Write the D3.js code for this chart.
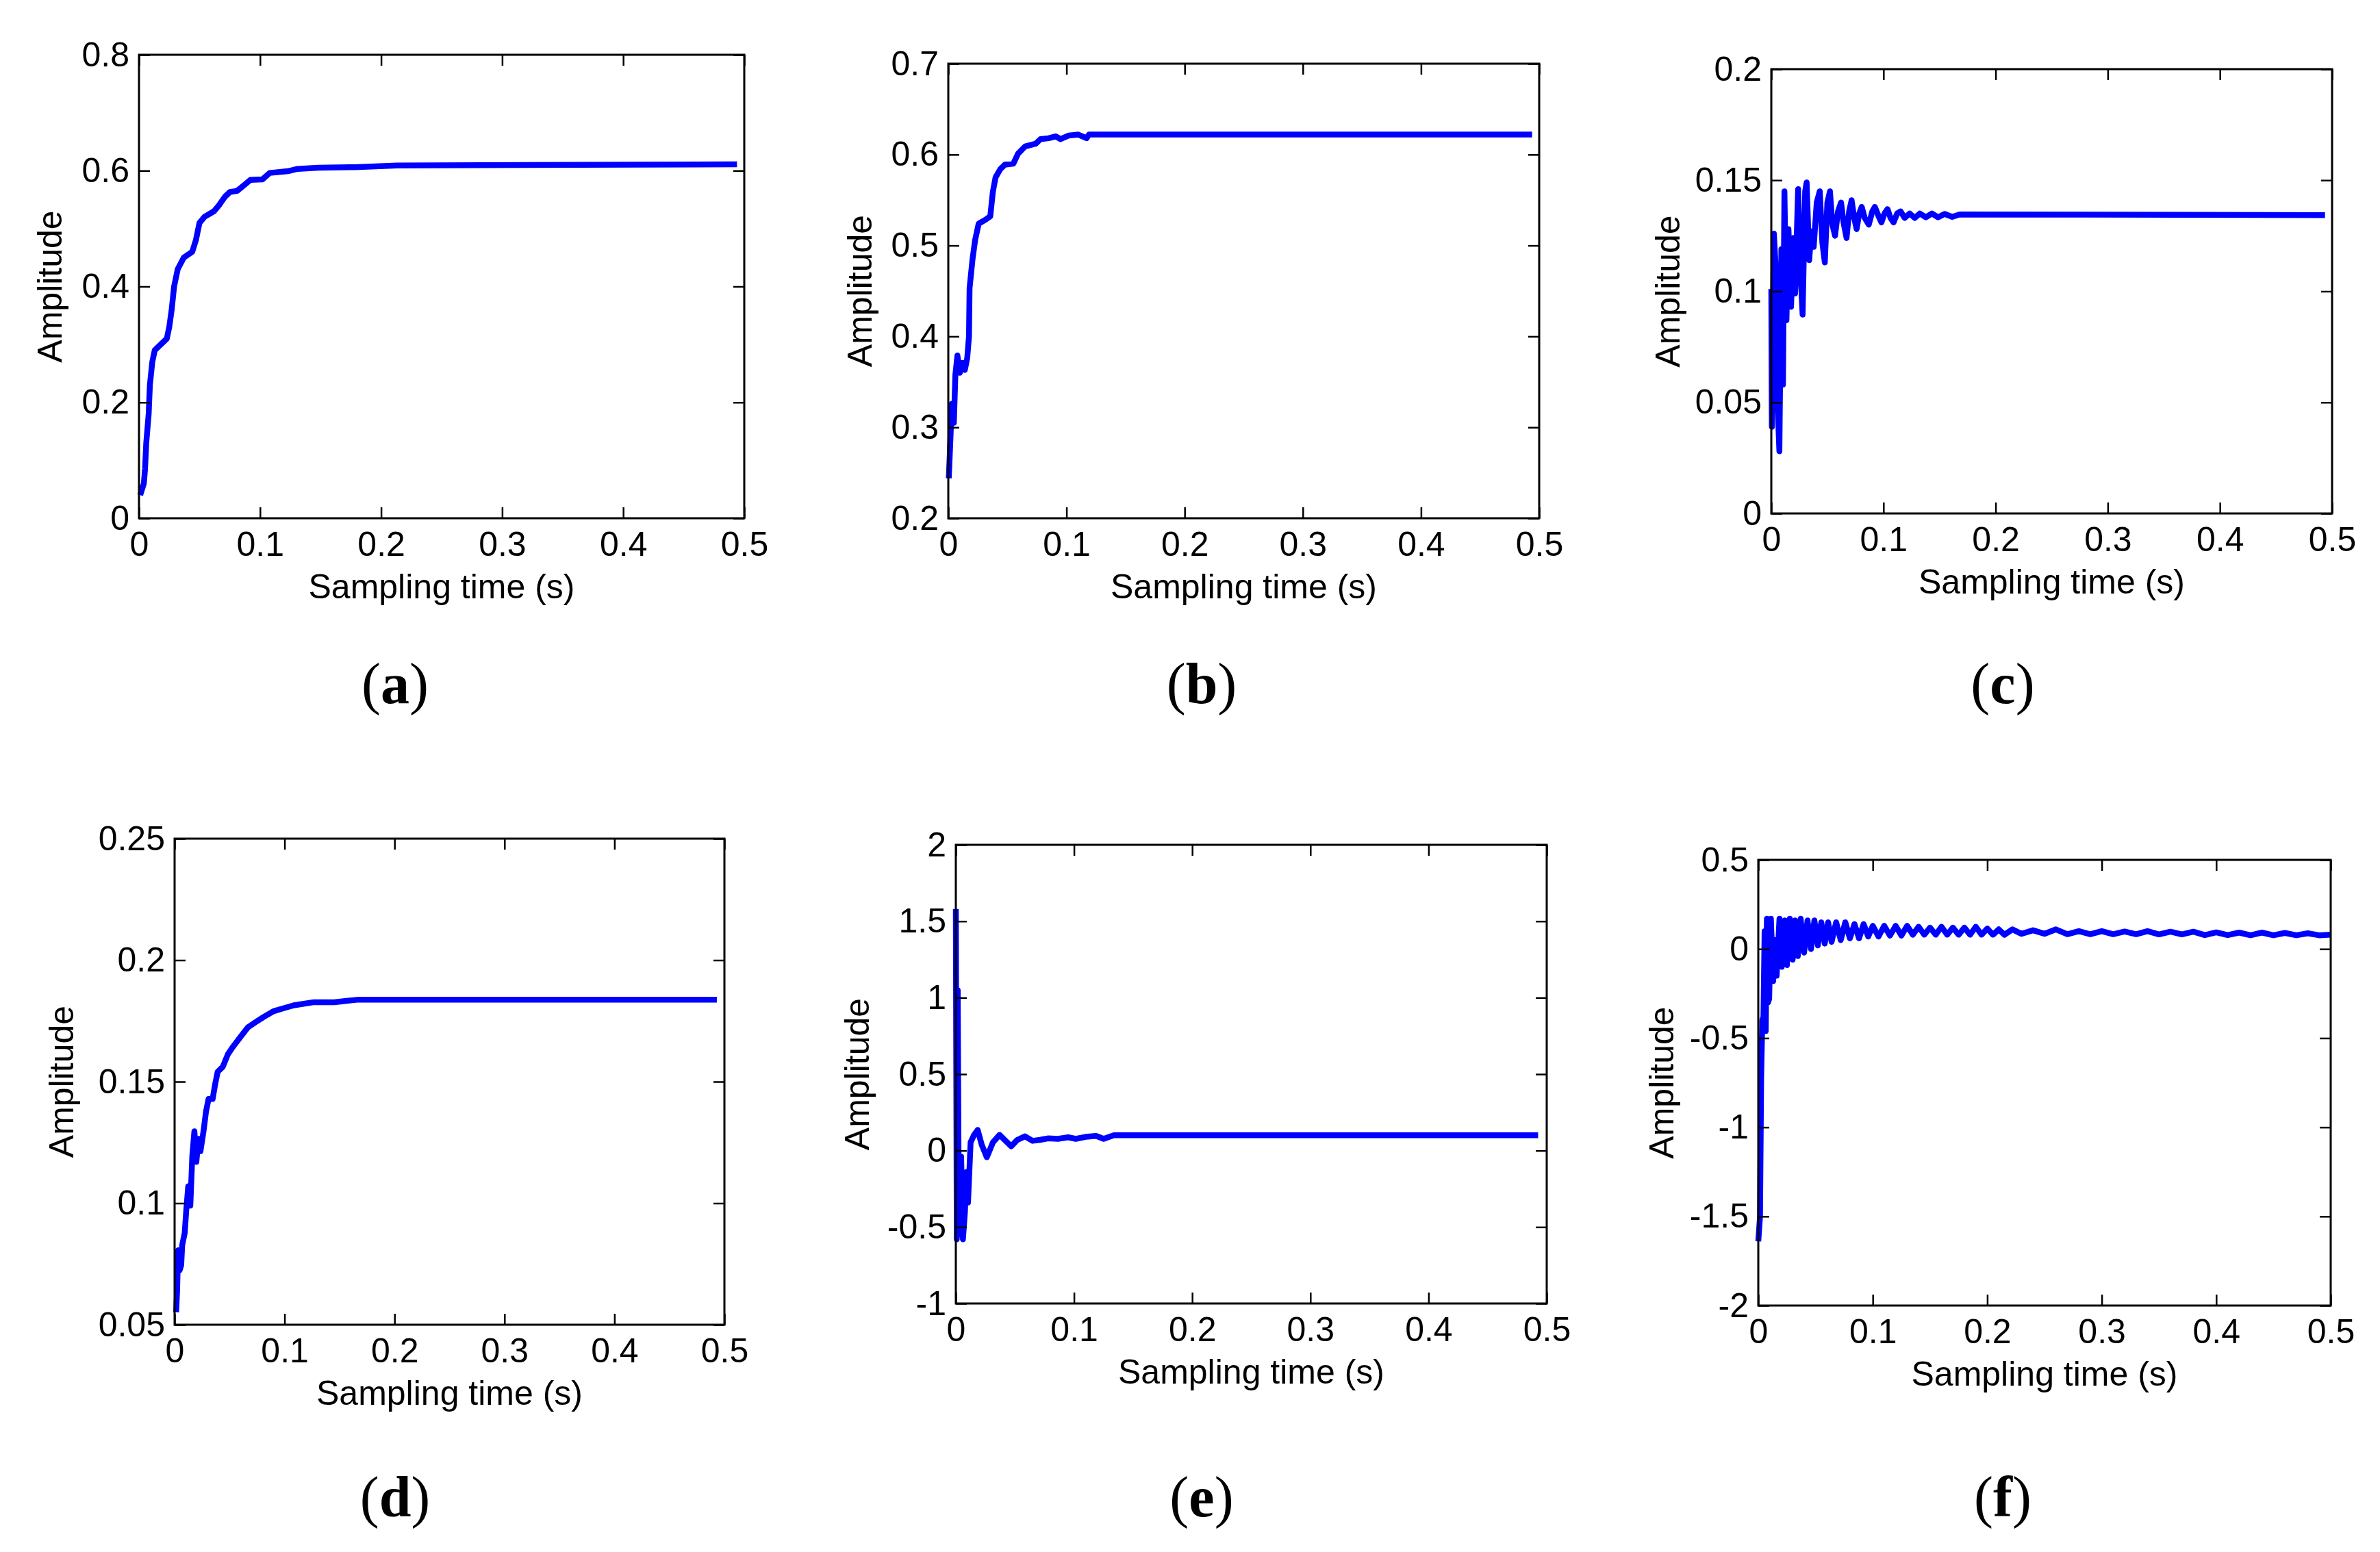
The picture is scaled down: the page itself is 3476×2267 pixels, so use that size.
<!DOCTYPE html>
<html><head><meta charset="utf-8">
<script src="https://cdn.jsdelivr.net/npm/d3@7"></script>
<style>html,body{margin:0;padding:0;background:#fff;} svg{display:block}</style>
</head><body>
<script>
// ---------- DATA ----------
const xTicks = [0, 0.1, 0.2, 0.3, 0.4, 0.5];
const xTickLabels = ["0", "0.1", "0.2", "0.3", "0.4", "0.5"];
const xTitle = "Sampling time (s)";
const yTitle = "Amplitude";
const panelLetters = ["a", "b", "c", "d", "e", "f"];

// (a)
const yDomainA = [0, 0.8];
const yTicksA = [0, 0.2, 0.4, 0.6, 0.8];
const yTickLabelsA = ["0", "0.2", "0.4", "0.6", "0.8"];
const tA = [0.001,0.004,0.005,0.006,0.008,0.009,0.011,0.013,0.018,0.023,0.025,0.027,0.029,0.032,0.037,0.044,0.047,0.05,0.054,0.062,0.066,0.071,0.075,0.081,0.088,0.092,0.102,0.108,0.123,0.131,0.148,0.178,0.213,0.494];
const yA = [0.04,0.06,0.085,0.13,0.18,0.23,0.27,0.29,0.30,0.31,0.33,0.36,0.40,0.43,0.45,0.46,0.48,0.51,0.52,0.53,0.54,0.555,0.563,0.565,0.577,0.584,0.585,0.596,0.599,0.603,0.605,0.606,0.609,0.611];

// (b)
const yDomainB = [0.2, 0.7];
const yTicksB = [0.2, 0.3, 0.4, 0.5, 0.6, 0.7];
const yTickLabelsB = ["0.2", "0.3", "0.4", "0.5", "0.6", "0.7"];
const tB = [0.0004,0.001,0.002,0.003,0.0047,0.006,0.0077,0.0098,0.012,0.014,0.016,0.0175,0.018,0.0205,0.0227,0.0257,0.031,0.0355,0.0377,0.04,0.044,0.048,0.055,0.059,0.065,0.074,0.078,0.085,0.091,0.095,0.102,0.11,0.117,0.119,0.494];
const yB = [0.244,0.262,0.294,0.326,0.305,0.358,0.379,0.36,0.371,0.363,0.376,0.40,0.453,0.485,0.506,0.524,0.528,0.532,0.559,0.575,0.584,0.589,0.590,0.601,0.609,0.612,0.617,0.618,0.620,0.617,0.621,0.622,0.618,0.622,0.622];

// (c)
const yDomainC = [0, 0.2];
const yTicksC = [0, 0.05, 0.1, 0.15, 0.2];
const yTickLabelsC = ["0", "0.05", "0.1", "0.15", "0.2"];
const tC = [0,0.0005,0.0023,0.004,0.0054,0.0072,0.009,0.0104,0.0117,0.0135,0.0153,0.0176,0.0198,0.0212,0.0239,0.0261,0.0279,0.0302,0.0315,0.0338,0.0356,0.0378,0.0405,0.0432,0.0455,0.0477,0.05,0.0523,0.0545,0.0568,0.0595,0.0622,0.0644,0.0671,0.0694,0.0716,0.0739,0.0761,0.0784,0.0806,0.0833,0.0869,0.0901,0.0923,0.0955,0.0982,0.1009,0.1036,0.1063,0.109,0.1122,0.1153,0.1189,0.1234,0.1279,0.1324,0.1378,0.1432,0.1486,0.1545,0.1613,0.168,0.4937];
const yC = [0.101,0.039,0.126,0.110,0.052,0.028,0.119,0.058,0.145,0.087,0.128,0.093,0.124,0.099,0.146,0.108,0.0895,0.145,0.149,0.114,0.127,0.120,0.140,0.145,0.122,0.113,0.140,0.145,0.130,0.125,0.136,0.140,0.131,0.124,0.136,0.141,0.133,0.128,0.135,0.138,0.133,0.130,0.136,0.138,0.134,0.131,0.135,0.137,0.133,0.131,0.135,0.136,0.133,0.135,0.133,0.135,0.1333,0.135,0.1333,0.1348,0.1335,0.1346,0.1343];

// (d)
const yDomainD = [0.05, 0.25];
const yTicksD = [0.05, 0.1, 0.15, 0.2, 0.25];
const yTickLabelsD = ["0.05", "0.1", "0.15", "0.2", "0.25"];
const tD = [0.0014,0.0023,0.0032,0.0046,0.006,0.0069,0.0092,0.0106,0.0124,0.0143,0.0161,0.018,0.0198,0.0217,0.0235,0.0263,0.0286,0.0309,0.0346,0.0369,0.0392,0.0438,0.0484,0.053,0.0599,0.0668,0.0737,0.0806,0.0899,0.0991,0.1083,0.1267,0.1452,0.1659,0.4931];
const yD = [0.0551,0.0643,0.0806,0.0724,0.0745,0.0827,0.0878,0.097,0.107,0.099,0.1194,0.1296,0.117,0.1265,0.1214,0.1296,0.1378,0.1429,0.1429,0.149,0.1541,0.1561,0.1612,0.1643,0.1684,0.1724,0.1745,0.1765,0.179,0.1802,0.1814,0.1827,0.1827,0.1837,0.1837];

// (e)
const yDomainE = [-1, 2];
const yTicksE = [-1, -0.5, 0, 0.5, 1, 1.5, 2];
const yTickLabelsE = ["-1", "-0.5", "0", "0.5", "1", "1.5", "2"];
const tE = [0,0.0008,0.0016,0.0026,0.0045,0.006,0.0077,0.009,0.0103,0.0125,0.0155,0.0185,0.0219,0.0262,0.0314,0.037,0.0426,0.0469,0.052,0.0585,0.0649,0.0714,0.0778,0.0864,0.095,0.1015,0.11,0.1187,0.1251,0.1337,0.4927];
const yE = [1.58,-0.58,1.05,-0.55,-0.04,-0.58,-0.40,-0.14,-0.34,0.054,0.103,0.135,0.038,-0.043,0.054,0.103,0.06,0.028,0.07,0.093,0.064,0.07,0.08,0.077,0.087,0.077,0.09,0.096,0.077,0.1,0.1];

// (f)
const yDomainF = [-2, 0.5];
const yTicksF = [-2, -1.5, -1, -0.5, 0, 0.5];
const yTickLabelsF = ["-2", "-1.5", "-1", "-0.5", "0", "0.5"];
const tF = [0,0.0015,0.0025,0.0035,0.0045,0.0055,0.0065,0.0075,0.0085,0.0095,0.011,0.013,0.0145,0.016,0.0185,0.0205,0.023,0.025,0.0275,0.030,0.032,0.0345,0.037,0.040,0.043,0.046,0.049,0.052,0.055,0.058,0.061,0.064,0.068,0.072,0.076,0.080,0.084,0.088,0.092,0.096,0.100,0.105,0.110,0.115,0.120,0.125,0.130,0.135,0.140,0.145,0.150,0.155,0.160,0.165,0.170,0.175,0.180,0.185,0.190,0.195,0.200,0.205,0.210,0.215,0.222,0.230,0.240,0.250,0.260,0.270,0.280,0.290,0.300,0.310,0.320,0.330,0.340,0.350,0.360,0.370,0.380,0.390,0.400,0.410,0.420,0.430,0.440,0.450,0.460,0.470,0.480,0.490,0.500];
const yF = [-1.64,-1.50,-0.72,-0.40,-0.38,0.10,-0.46,0.17,-0.30,-0.28,0.17,-0.18,0.05,-0.15,0.17,-0.10,0.16,-0.09,0.17,-0.06,0.16,-0.04,0.17,-0.02,0.16,0.00,0.16,0.02,0.15,0.03,0.15,0.04,0.15,0.05,0.15,0.06,0.14,0.06,0.14,0.07,0.13,0.07,0.13,0.075,0.13,0.075,0.13,0.08,0.125,0.08,0.12,0.08,0.125,0.08,0.12,0.08,0.12,0.08,0.125,0.08,0.115,0.08,0.11,0.08,0.11,0.085,0.105,0.085,0.11,0.083,0.10,0.083,0.10,0.083,0.098,0.083,0.10,0.082,0.097,0.082,0.097,0.078,0.093,0.078,0.092,0.077,0.092,0.077,0.09,0.077,0.088,0.077,0.08];

// ---------- LAYOUT (positions only) ----------
const layout = [
  {x0: 203,  x1: 1087, y0: 80,   y1: 757,  yTitleOff: 113, labX: 577,  labY: 1027},
  {x0: 1385, x1: 2248, y0: 93,   y1: 757,  yTitleOff: 112, labX: 1755, labY: 1027},
  {x0: 2587, x1: 3406, y0: 101,  y1: 750,  yTitleOff: 134, labX: 2925, labY: 1027},
  {x0: 255,  x1: 1058, y0: 1225, y1: 1935, yTitleOff: 148, labX: 577,  labY: 2215},
  {x0: 1396, x1: 2259, y0: 1234, y1: 1904, yTitleOff: 127, labX: 1755, labY: 2215},
  {x0: 2568, x1: 3404, y0: 1256, y1: 1907, yTitleOff: 124, labX: 2925, labY: 2215}
];

const series = [
  {t: tA, y: yA, dom: yDomainA, ticks: yTicksA, tl: yTickLabelsA},
  {t: tB, y: yB, dom: yDomainB, ticks: yTicksB, tl: yTickLabelsB},
  {t: tC, y: yC, dom: yDomainC, ticks: yTicksC, tl: yTickLabelsC},
  {t: tD, y: yD, dom: yDomainD, ticks: yTicksD, tl: yTickLabelsD},
  {t: tE, y: yE, dom: yDomainE, ticks: yTicksE, tl: yTickLabelsE},
  {t: tF, y: yF, dom: yDomainF, ticks: yTicksF, tl: yTickLabelsF}
];

// ---------- DRAW ----------
const W = 3476, H = 2267;
const FONT = "'Liberation Sans', Arial, sans-serif";
const FS = 50;
const TICK = 16;

const svg = d3.select("body").append("svg")
  .attr("width", W).attr("height", H)
  .attr("viewBox", `0 0 ${W} ${H}`);
svg.append("rect").attr("width", W).attr("height", H).attr("fill", "#fff");

series.forEach((s, i) => {
  const L = layout[i];
  const x = d3.scaleLinear().domain([0, 0.5]).range([L.x0, L.x1]);
  const y = d3.scaleLinear().domain(s.dom).range([L.y1, L.y0]);
  const g = svg.append("g");

  const pts = d3.zip(s.t, s.y);
  g.append("path")
    .datum(pts)
    .attr("fill", "none")
    .attr("stroke", "#0000ff")
    .attr("stroke-width", 8.5)
    .attr("stroke-linejoin", "round")
    .attr("stroke-linecap", "butt")
    .attr("d", d3.line().x(d => x(d[0])).y(d => y(d[1])));

  const styleAxis = sel => {
    sel.select(".domain").remove();
    sel.selectAll(".tick line").attr("stroke", "#000").attr("stroke-width", 2.5);
    sel.selectAll(".tick text")
      .attr("fill", "#000")
      .style("font-family", FONT)
      .style("font-size", FS + "px");
  };

  g.append("g").attr("transform", `translate(0,${L.y1})`)
    .call(d3.axisBottom(x).tickValues(xTicks)
      .tickFormat((d, k) => xTickLabels[k])
      .tickSizeInner(-TICK).tickSizeOuter(0).tickPadding(19))
    .call(styleAxis);
  g.append("g").attr("transform", `translate(0,${L.y0})`)
    .call(d3.axisTop(x).tickValues(xTicks).tickFormat("")
      .tickSizeInner(-TICK).tickSizeOuter(0))
    .call(styleAxis);
  g.append("g").attr("transform", `translate(${L.x0},0)`)
    .call(d3.axisLeft(y).tickValues(s.ticks)
      .tickFormat((d, k) => s.tl[k])
      .tickSizeInner(-TICK).tickSizeOuter(0).tickPadding(14))
    .call(styleAxis);
  g.append("g").attr("transform", `translate(${L.x1},0)`)
    .call(d3.axisRight(y).tickValues(s.ticks).tickFormat("")
      .tickSizeInner(-TICK).tickSizeOuter(0))
    .call(styleAxis);

  g.append("rect")
    .attr("x", L.x0).attr("y", L.y0)
    .attr("width", L.x1 - L.x0).attr("height", L.y1 - L.y0)
    .attr("fill", "none").attr("stroke", "#000").attr("stroke-width", 3);

  g.append("text")
    .attr("x", (L.x0 + L.x1) / 2).attr("y", L.y1 + 117)
    .attr("text-anchor", "middle")
    .style("font-family", FONT).style("font-size", FS + "px")
    .attr("fill", "#000")
    .text(xTitle);

  const cy = (L.y0 + L.y1) / 2;
  const bx = L.x0 - L.yTitleOff;
  g.append("text")
    .attr("transform", `translate(${bx},${cy}) rotate(-90)`)
    .attr("text-anchor", "middle")
    .style("font-family", FONT).style("font-size", FS + "px")
    .attr("fill", "#000")
    .text(yTitle);

  const lab = g.append("text")
    .attr("x", L.labX).attr("y", L.labY)
    .attr("text-anchor", "middle")
    .style("font-family", "'Liberation Serif', 'Times New Roman', serif")
    .style("font-size", "84px")
    .attr("fill", "#000");
  lab.append("tspan").text("(");
  lab.append("tspan").attr("font-weight", "bold").text(panelLetters[i]);
  lab.append("tspan").text(")");
});
</script>
</body></html>
